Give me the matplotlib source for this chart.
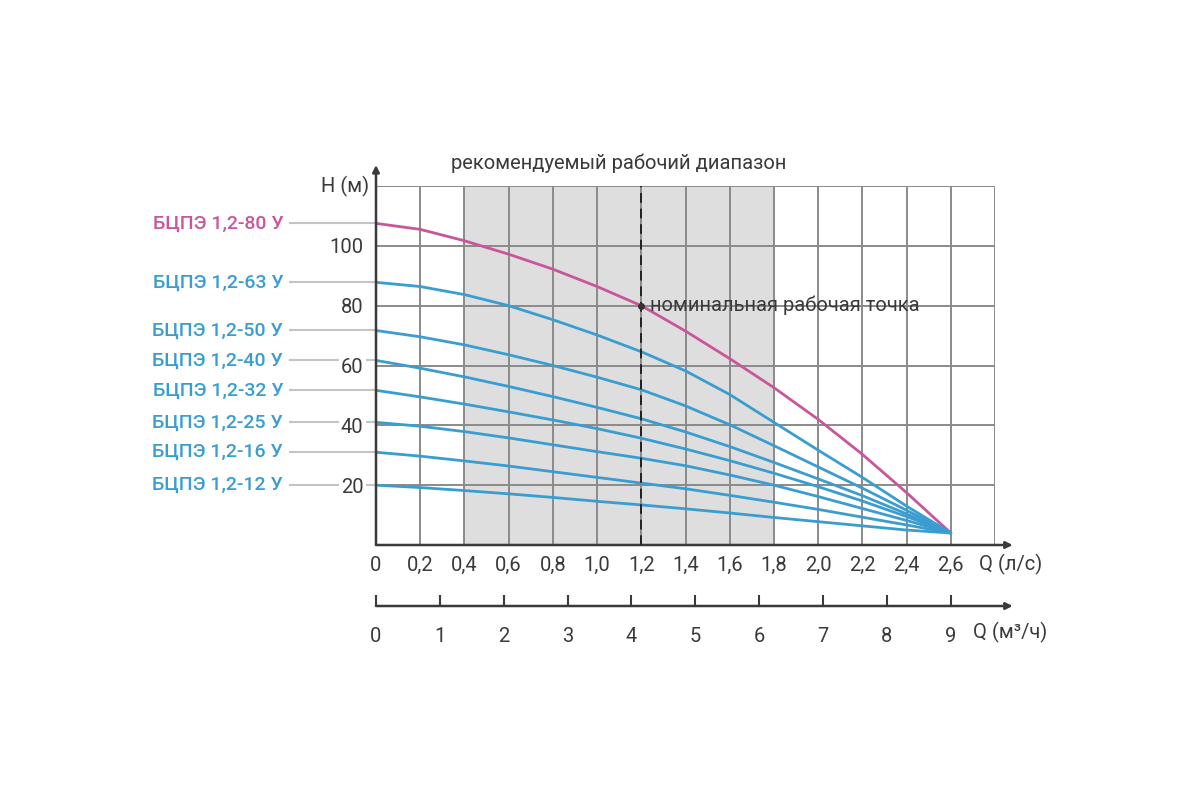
import numpy as np
import matplotlib.pyplot as plt

plt.rcParams['font.family'] = ['Roboto', 'DejaVu Sans']

# flow, l/s
q = [0, 0.2, 0.4, 0.6, 0.8, 1.0, 1.2, 1.4, 1.6, 1.8, 2.0, 2.2, 2.4, 2.6]

# head curves, m
models = ['БЦПЭ 1,2-80 У', 'БЦПЭ 1,2-63 У', 'БЦПЭ 1,2-50 У', 'БЦПЭ 1,2-40 У',
          'БЦПЭ 1,2-32 У', 'БЦПЭ 1,2-25 У', 'БЦПЭ 1,2-16 У', 'БЦПЭ 1,2-12 У']
h80 = [107.5, 105.5, 101.7, 97.2, 92.2, 86.4, 80, 71.5, 62.3, 52.6, 42, 30.3, 17.5, 4]
h63 = [87.8, 86.4, 83.7, 80, 75.3, 70.2, 64.6, 58.2, 50.3, 41, 31.7, 22.6, 13, 4]
h50 = [71.7, 69.6, 66.9, 63.6, 60, 56.1, 51.9, 46.5, 40.2, 33.2, 26.1, 19, 11.6, 4]
h40 = [61.7, 59.1, 56.2, 53, 49.6, 46, 42.2, 37.8, 32.9, 27.6, 22.1, 16.5, 10.4, 4]
h32 = [51.7, 49.5, 47.1, 44.5, 41.8, 38.9, 35.7, 32.1, 28.2, 24, 19.5, 14.7, 9.5, 4]
h25 = [41, 39.7, 37.9, 35.8, 33.5, 31.2, 29, 26.5, 23.4, 20, 16.2, 12.2, 8.2, 4]
h16 = [31, 29.7, 28.1, 26.4, 24.5, 22.6, 20.7, 18.8, 16.6, 14.3, 11.9, 9.3, 6.7, 4]
h12 = [20, 19.2, 18.2, 17.1, 15.9, 14.6, 13.4, 12.1, 10.7, 9.2, 7.8, 6.4, 5, 4]
heads = [h80, h63, h50, h40, h32, h25, h16, h12]

q_ticks = [0, 0.2, 0.4, 0.6, 0.8, 1.0, 1.2, 1.4, 1.6, 1.8, 2.0, 2.2, 2.4, 2.6]
q_ticklabels = ['0', '0,2', '0,4', '0,6', '0,8', '1,0', '1,2', '1,4', '1,6', '1,8',
                '2,0', '2,2', '2,4', '2,6']
h_ticks = [20, 40, 60, 80, 100]
m3h_labels = ['0', '1', '2', '3', '4', '5', '6', '7', '8', '9']

range_lo, range_hi = 0.4, 1.8
nominal_q, nominal_h = 1.2, 80

pink = '#c9559a'
blue = '#3a9dd0'
gridc = '#8a8a8a'
axc = '#3a3a3a'
txt = '#3a3a3a'

fig = plt.figure(figsize=(12, 8), dpi=100)
ax = fig.add_axes([376/1200, 1-545/800, (995-376)/1200, (545-186)/800])
ax.set_xlim(0, 2.8)
ax.set_ylim(0, 120)

# recommended range
ax.axvspan(range_lo, range_hi, color='#dedede', zorder=0, lw=0)

# grid
for x in np.arange(0.2, 2.81, 0.2):
    ax.axvline(x, color=gridc, lw=1.4, zorder=1)
for y in [20, 40, 60, 80, 100, 120]:
    ax.axhline(y, color=gridc, lw=1.4, zorder=1)

for name, h in zip(models, heads):
    c = pink if name.endswith('80 У') else blue
    ax.plot(q, h, color=c, lw=2, zorder=3, solid_capstyle='round', solid_joinstyle='round')
    # leader line + label on the left
    ax.plot([-0.39, 0], [h[0], h[0]], color='#c4c4c4', lw=1.5, clip_on=False, zorder=1.5)
    ax.text(-0.42, h[0], name, color=c, fontsize=14, fontweight='medium',
            ha='right', va='center')

# nominal point
ax.axvline(nominal_q, color='#222222', lw=1.4, ls=(0, (5, 3)), zorder=4)
ax.plot([nominal_q], [nominal_h], 'o', color='#333333', ms=4, zorder=5)
ax.text(nominal_q + 0.04, nominal_h, 'номинальная рабочая точка', color=txt,
        fontsize=14.5, va='center', ha='left', zorder=6)

ax.text((range_lo + range_hi) / 2, 124.5, 'рекомендуемый рабочий диапазон', color=txt,
        fontsize=14.5, ha='center', va='bottom')

# axes with arrows
for s in ax.spines.values():
    s.set_visible(False)
ax.annotate('', xy=(0, 127), xytext=(0, 0), annotation_clip=False,
            arrowprops=dict(arrowstyle='-|>', color=axc, lw=1.8, mutation_scale=10,
                            shrinkA=0, shrinkB=0))
ax.annotate('', xy=(2.88, 0), xytext=(0, 0), annotation_clip=False,
            arrowprops=dict(arrowstyle='-|>', color=axc, lw=1.8, mutation_scale=10,
                            shrinkA=0, shrinkB=0))

ax.set_xticks(q_ticks)
ax.set_xticklabels(q_ticklabels)
ax.set_yticks(h_ticks)
ax.tick_params(length=0, labelsize=14.5, labelcolor=txt, pad=8)
ax.tick_params(axis='y', pad=9)
for lab in ax.get_yticklabels():
    lab.set_bbox(dict(facecolor='white', edgecolor='none', pad=1.5))
ax.text(-0.03, 120, 'H (м)', color=txt, fontsize=14.5, ha='right', va='center')
ax.text(2.87, -6.5, 'Q (л/с)', color=txt, fontsize=14.5, ha='center', va='center')

# second flow scale, m3/h
ax2 = fig.add_axes([376/1200, 1-606/800, (995-376)/1200, 0.001])
ax2.set_xlim(0, 2.8)
for s in ax2.spines.values():
    s.set_visible(False)
ax2.set_yticks([])
ax2.annotate('', xy=(2.88, 0), xytext=(0, 0), xycoords=('data', 'axes fraction'),
             textcoords=('data', 'axes fraction'), annotation_clip=False,
             arrowprops=dict(arrowstyle='-|>', color=axc, lw=1.8, mutation_scale=10,
                             shrinkA=0, shrinkB=0))
m3h_pos = [i * 2.6 / 9 for i in range(len(m3h_labels))]
ax2.set_xticks(m3h_pos)
ax2.set_xticklabels(m3h_labels)
ax2.tick_params(axis='x', direction='in', length=8, width=1.5, color=axc,
                labelsize=14.5, labelcolor=txt, pad=15)
ax2.annotate('Q (м³/ч)', xy=(2.87, 0), xycoords=('data', 'axes fraction'),
             xytext=(0, -19), textcoords='offset points', color=txt, fontsize=14.5,
             ha='center', va='center')

fig.savefig('out.png', dpi=100)
